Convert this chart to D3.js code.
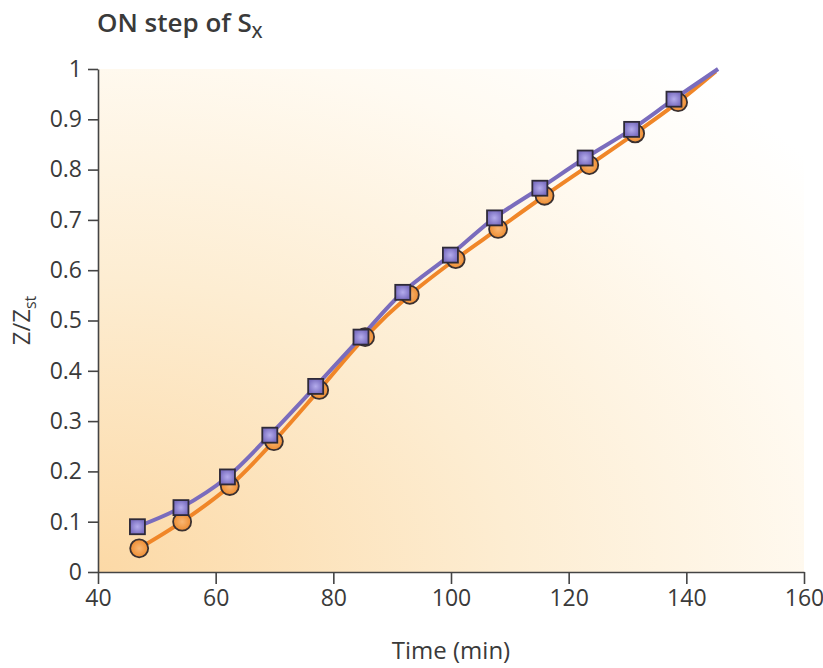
<!DOCTYPE html>
<html>
<head>
<meta charset="utf-8">
<script src="https://cdn.jsdelivr.net/npm/d3@7"></script>
<style>
  body { margin: 0; background: #fff; }
  text { font-family: "Open Sans", "Noto Sans", sans-serif; fill: #3a3a3a; }
</style>
</head>
<body>
<script>
// data
var squareTime  = [46.7, 54.1, 62.0, 69.2, 77.0, 84.7, 91.8, 99.9, 107.4, 115.1, 122.8, 130.7, 137.9]
var squareValue = [0.090, 0.128, 0.189, 0.272, 0.369, 0.467, 0.556, 0.630, 0.704, 0.763, 0.823, 0.880, 0.940]
var circleTime  = [47.0, 54.3, 62.4, 69.9, 77.6, 85.4, 93.0, 100.8, 108.0, 115.9, 123.5, 131.3, 138.6]
var circleValue = [0.047, 0.100, 0.171, 0.260, 0.362, 0.467, 0.551, 0.622, 0.682, 0.748, 0.809, 0.872, 0.934]
// where the fitted lines leave the plot
var squareLineEnd = [145.4, 1.0]
var circleLineEnd = [145.0, 0.995]
var xTicks = [40, 60, 80, 100, 120, 140, 160]
var yTicks = [0, 0.1, 0.2, 0.3, 0.4, 0.5, 0.6, 0.7, 0.8, 0.9, 1]

var width = 823,
    height = 668
var margin = {top: 69, right: 19, bottom: 96, left: 98}

var svg = d3.select("body").append("svg")
  .attr("width", width)
  .attr("height", height)

var defs = svg.append("defs")

// soft orange glow from the lower left corner
var bg = defs.append("radialGradient")
  .attr("id", "bg").attr("cx", 0).attr("cy", 1).attr("fx", 0).attr("fy", 1).attr("r", 1.3)
bg.append("stop").attr("offset", "0%").attr("stop-color", "#fcd9a6")
bg.append("stop").attr("offset", "45%").attr("stop-color", "#fdedd2")
bg.append("stop").attr("offset", "80%").attr("stop-color", "#fffaf1")
bg.append("stop").attr("offset", "100%").attr("stop-color", "#ffffff")

var sq = defs.append("radialGradient").attr("id", "sq")
sq.append("stop").attr("offset", "0%").attr("stop-color", "#b4acec")
sq.append("stop").attr("offset", "100%").attr("stop-color", "#7c70c2")

var ci = defs.append("radialGradient").attr("id", "ci")
ci.append("stop").attr("offset", "0%").attr("stop-color", "#f8b673")
ci.append("stop").attr("offset", "100%").attr("stop-color", "#ee8d32")

var x = d3.scaleLinear().domain([40, 160]).range([margin.left, width - margin.right])
var y = d3.scaleLinear().domain([0, 1]).range([height - margin.bottom, margin.top])

svg.append("rect")
  .attr("x", x(40)).attr("y", y(1))
  .attr("width", x(160) - x(40)).attr("height", y(0) - y(1))
  .attr("fill", "url(#bg)")

// axes
var xAxis = svg.append("g")
  .attr("transform", "translate(0," + y(0) + ")")
  .call(d3.axisBottom(x).tickValues(xTicks).tickSize(12).tickSizeOuter(0).tickPadding(6))
var yAxis = svg.append("g")
  .attr("transform", "translate(" + x(40) + ",0)")
  .call(d3.axisLeft(y).tickValues(yTicks).tickSize(10).tickSizeOuter(0).tickPadding(6)
    .tickFormat(function(d) { return d === 0 || d === 1 ? d : d3.format(".1f")(d) }))

svg.selectAll(".domain, .tick line").attr("stroke", "#444").attr("stroke-width", 1.6)
svg.selectAll(".tick text")
  .style("font-family", '"Open Sans", sans-serif')
  .style("font-size", "23px")
  .attr("fill", "#3a3a3a")

// labels
svg.append("text")
  .attr("x", 97).attr("y", 32)
  .style("font-size", "26px").style("font-weight", 600)
  .text("ON step of S")
  .append("tspan").attr("dy", 6).style("font-size", "17px").text("X")

svg.append("text")
  .attr("x", x(100)).attr("y", 659)
  .attr("text-anchor", "middle")
  .style("font-size", "24px")
  .text("Time (min)")

var yl = svg.append("text")
  .attr("transform", "translate(30," + y(0.5) + ") rotate(-90)")
  .attr("text-anchor", "middle")
  .style("font-size", "24px")
yl.append("tspan").text("Z/Z")
yl.append("tspan").attr("dy", 6).style("font-size", "16px").text("st")

// lines
var line = d3.line()
  .x(function(d) { return x(d[0]) })
  .y(function(d) { return y(d[1]) })
  .curve(d3.curveCatmullRom)

var circles = circleTime.map(function(t, i) { return [t, circleValue[i]] })
var squares = squareTime.map(function(t, i) { return [t, squareValue[i]] })

svg.append("path")
  .datum(circles.concat([circleLineEnd]))
  .attr("d", line)
  .attr("fill", "none").attr("stroke", "#f08628").attr("stroke-width", 4)

svg.append("path")
  .datum(squares.concat([squareLineEnd]))
  .attr("d", line)
  .attr("fill", "none").attr("stroke", "#7a6cbd").attr("stroke-width", 4)

svg.selectAll(".circ")
  .data(circles)
  .enter().append("circle")
  .attr("class", "circ")
  .attr("cx", function(d) { return x(d[0]) })
  .attr("cy", function(d) { return y(d[1]) })
  .attr("r", 9)
  .attr("fill", "url(#ci)")
  .attr("stroke", "#3a3030").attr("stroke-width", 1.8)

svg.selectAll(".sq")
  .data(squares)
  .enter().append("rect")
  .attr("class", "sq")
  .attr("x", function(d) { return x(d[0]) - 7.5 })
  .attr("y", function(d) { return y(d[1]) - 7.5 })
  .attr("width", 15).attr("height", 15)
  .attr("fill", "url(#sq)")
  .attr("stroke", "#2e2a38").attr("stroke-width", 1.8)
</script>
</body>
</html>
